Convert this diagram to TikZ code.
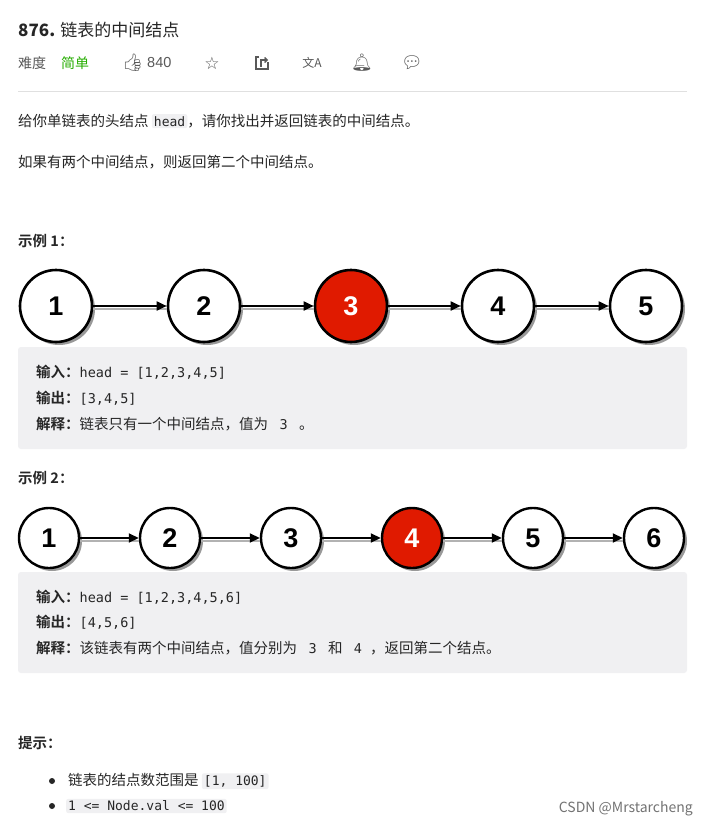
\documentclass[tikz,border=0pt]{standalone}
\usepackage{fontspec}
\setmainfont{Noto Sans CJK SC}
\newfontfamily\cjk{Noto Sans CJK SC}
\newfontfamily\cjkb{Noto Sans CJK SC Bold}
\newfontfamily\mono{DejaVu Sans Mono}
\newfontfamily\arial{Liberation Sans}
\newfontfamily\djv{DejaVu Sans}
\newfontfamily\emo{Noto Emoji}
\usetikzlibrary{arrows.meta,shadows}
\definecolor{txt}{HTML}{262626}
\definecolor{boxbg}{HTML}{F0F0F2}
\definecolor{nred}{HTML}{E01A00}
\definecolor{icon}{HTML}{595959}
\tikzset{
  lnode/.style={circle,draw=black,line width=2.6pt,fill=white,font=\arial\bfseries\fontsize{27}{27}\selectfont,text=black,
     drop shadow={shadow xshift=3pt,shadow yshift=-3pt,fill=black!40,opacity=1}},
  rnode/.style={lnode,fill=nred,text=white},
  link/.style={-{Triangle[length=10pt,width=9pt]},line width=1.8pt,black,
     preaction={draw=black!30,line width=2pt,transform canvas={yshift=-2.5pt},-}},
  t/.style={anchor=west,inner sep=0pt,text=txt,font=\cjk\fontsize{14.5}{16}\selectfont},
  tb/.style={t,font=\cjkb\fontsize{14.5}{16}\selectfont},
  mc/.style={},
  code/.style={anchor=west,inner sep=2pt,fill=boxbg,rounded corners=2pt,font=\mono\fontsize{13}{14}\selectfont,text=txt},
  ic/.style={inner sep=0pt,text=icon,font=\djv\fontsize{17}{17}\selectfont}
}
\newcommand\mcode[1]{{\mono\fontsize{13.5}{14}\selectfont #1}}
\begin{document}
\begin{tikzpicture}[x=1pt,y=-1pt]
\useasboundingbox[fill=white] (0,0) rectangle (708,830);
% header
\node[t,font=\cjk\fontsize{17}{18}\selectfont] (title) at (18,30) {\textbf{876.} 链表的中间结点};
\node[t,text=icon,font=\cjk\fontsize{14}{15}\selectfont] (diff) at (18,63) {难度};
\node[t,text=green!60!black!80!lime,font=\cjk\fontsize{14}{15}\selectfont] (easy) at (61,63) {简单};
\node[ic,anchor=west] (thumb) at (122,63) {\emo 👍};
\node[t,text=icon,font=\arial\fontsize{14.5}{15}\selectfont] (likes) at (147,63) {840};
\node[ic] (star) at (212,63) {☆};
\draw[icon,line width=1.3pt] (259,57) -- (256,57) -- (256,69) -- (268,69) -- (268,62);
\draw[icon,line width=1.3pt,-{Straight Barb[length=2.5pt]}] (261,67) -- (261,60) -- (268,60) coordinate (share);
\node[ic,font=\cjk\fontsize{12}{12}\selectfont] (tr) at (312,63) {文A};
\node[ic] (bell) at (362,63) {\emo 🔔};
\node[ic] (fb) at (412,63) {\emo 💬};
\draw[black!12,line width=0.8pt] (18,91) coordinate (hl) -- (687,91) coordinate (hr);
% description
\node[t] (d1) at (18,121) {给你单链表的头结点 \tikz[baseline=(h.base)]\node[code,anchor=base] (h) {head};，请你找出并返回链表的中间结点。};
\node[t] (d2) at (18,162) {如果有两个中间结点，则返回第二个中间结点。};
% example 1
\node[tb] (ex1) at (18,241) {示例 1：};
\foreach \n/\x in {1/56,2/204,3/351,4/498,5/646}{
  \ifnum\n=3 \node[rnode,minimum size=72pt] (a\n) at (\x,306) {\n};
  \else \node[lnode,minimum size=72pt] (a\n) at (\x,306) {\n}; \fi}
\foreach \i/\j in {1/2,2/3,3/4,4/5} \draw[link] (a\i) -- (a\j);
\fill[boxbg,rounded corners=3pt] (18,347) coordinate (b1) rectangle (687,449);
\node[t] (i1) at (36,372) {\cjkb 输入：\mcode{head = [1,2,3,4,5]}};
\node[t] (o1) at (36,398) {\cjkb 输出：\mcode{[3,4,5]}};
\node[t] (e1) at (36,424) {{\cjkb 解释：}链表只有一个中间结点，值为 \mcode{\ 3 } 。};
% example 2
\node[tb] (ex2) at (18,478) {示例 2：};
\foreach \n/\x in {1/49,2/170,3/291,4/412,5/533,6/654}{
  \ifnum\n=4 \node[rnode,minimum size=60pt,line width=2.4pt] (c\n) at (\x,538) {\n};
  \else \node[lnode,minimum size=60pt,line width=2.4pt] (c\n) at (\x,538) {\n}; \fi}
\foreach \i/\j in {1/2,2/3,3/4,4/5,5/6} \draw[link] (c\i) -- (c\j);
\fill[boxbg,rounded corners=3pt] (18,572) coordinate (b2) rectangle (687,673);
\node[t] (i2) at (36,597) {\cjkb 输入：\mcode{head = [1,2,3,4,5,6]}};
\node[t] (o2) at (36,622) {\cjkb 输出：\mcode{[4,5,6]}};
\node[t] (e2) at (36,648) {{\cjkb 解释：}该链表有两个中间结点，值分别为 \mcode{\ 3 } 和 \mcode{\ 4 }，返回第二个结点。};
% hints
\node[tb] (hint) at (18,743) {提示：};
\fill[txt] (52,781) circle (3pt);
\fill[txt] (52,806) circle (3pt);
\node[t] (h1) at (68,781) {链表的结点数范围是 \tikz[baseline=(r.base)]\node[code,anchor=base] (r) {[1, 100]};};
\node[anchor=west,code] (h2) at (66,806) {1 <= Node.val <= 100};
\node[anchor=east,inner sep=0pt,text=black!55,font=\cjk\fontsize{14}{15}\selectfont] (wm) at (693,809) {CSDN @Mrstarcheng};
\end{tikzpicture}
\end{document}
